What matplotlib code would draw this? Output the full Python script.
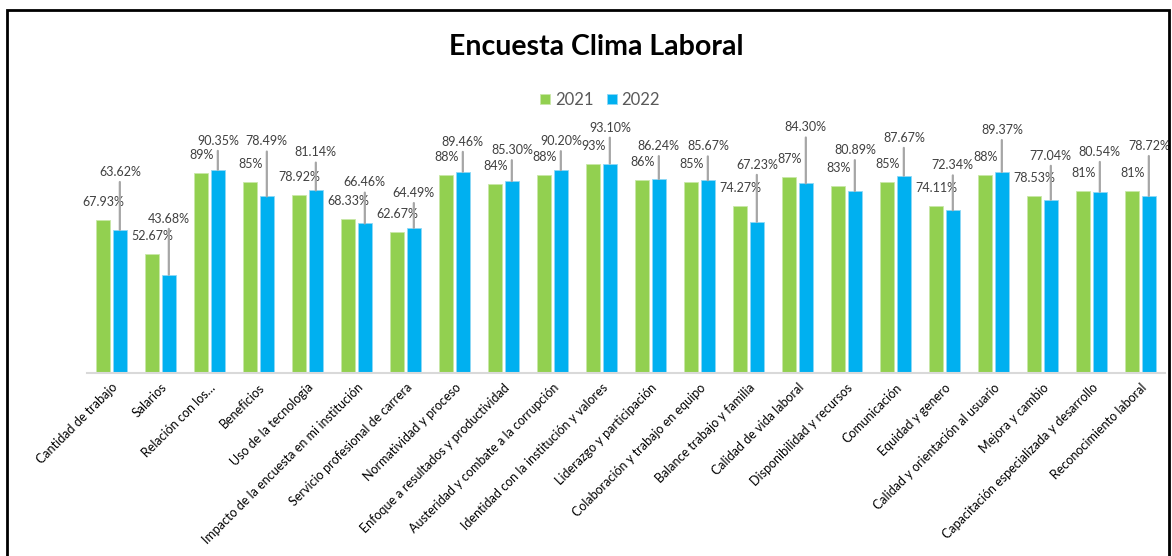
import matplotlib.pyplot as plt
from matplotlib.patches import Rectangle
import numpy as np

plt.rcParams['font.family'] = ['Lato', 'DejaVu Sans']

categories = [
    'Cantidad de trabajo', 'Salarios', 'Relación con los…', 'Beneficios',
    'Uso de la tecnología', 'Impacto de la encuesta en mi institución',
    'Servicio profesional de carrera', 'Normatividad y proceso',
    'Enfoque a resultados y productividad', 'Austeridad y combate a la corrupción',
    'Identidad con la institución y valores', 'Liderazgo y participación',
    'Colaboración y trabajo en equipo', 'Balance trabajo y familia',
    'Calidad de vida laboral', 'Disponibilidad y recursos', 'Comunicación',
    'Equidad y genero', 'Calidad y orientación al usuario', 'Mejora y cambio',
    'Capacitación especializada y desarrollo', 'Reconocimiento laboral',
]
v2021 = [67.93, 52.67, 89, 85, 78.92, 68.33, 62.67, 88, 84, 88, 93,
         86, 85, 74.27, 87, 83, 85, 74.11, 88, 78.53, 81, 81]
v2022 = [63.62, 43.68, 90.35, 78.49, 81.14, 66.46, 64.49, 89.46, 85.30, 90.20, 93.10,
         86.24, 85.67, 67.23, 84.30, 80.89, 87.67, 72.34, 89.37, 77.04, 80.54, 78.72]
lab2021 = ['67.93%', '52.67%', '89%', '85%', '78.92%', '68.33%', '62.67%', '88%', '84%',
           '88%', '93%', '86%', '85%', '74.27%', '87%', '83%', '85%', '74.11%', '88%',
           '78.53%', '81%', '81%']
lab2022 = ['63.62%', '43.68%', '90.35%', '78.49%', '81.14%', '66.46%', '64.49%', '89.46%',
           '85.30%', '90.20%', '93.10%', '86.24%', '85.67%', '67.23%', '84.30%', '80.89%',
           '87.67%', '72.34%', '89.37%', '77.04%', '80.54%', '78.72%']

# how far (pixels) each 2022 label sits above its bar, as placed in the original
lift2022 = [58, 56, 29, 55, 38, 41, 35, 30, 31, 29, 36, 33, 34, 57, 56, 41, 38, 45, 42, 44, 40, 50]

green = '#92D050'
blue = '#00B0F0'
W, H = 1172, 556

fig = plt.figure(figsize=(W / 100, H / 100), dpi=100)
ax = fig.add_axes([87 / W, (H - 373) / H, 1078 / W, 225 / H])

x = np.arange(len(categories))
bw = 0.28
ax.bar(x - 0.17, v2021, bw, color=green, edgecolor='#c9e8a8', linewidth=0.6, label='2021')
ax.bar(x + 0.17, v2022, bw, color=blue, edgecolor='#8fd8f5', linewidth=0.6, label='2022')

for i in range(len(categories)):
    ax.annotate(lab2021[i], xy=(x[i] - 0.17, v2021[i]), xytext=(0, 18),
                textcoords='offset pixels', ha='center', va='center',
                fontsize=9, color='#404040', annotation_clip=False)
    ax.annotate(lab2022[i], xy=(x[i] + 0.17, v2022[i]), xytext=(0, lift2022[i]),
                textcoords='offset pixels', ha='center', va='center',
                fontsize=9, color='#404040', annotation_clip=False,
                arrowprops=dict(arrowstyle='-', color='#a6a6a6', lw=1.6,
                                shrinkA=1, shrinkB=0))

ax.set_xlim(-0.5, len(categories) - 0.5)
ax.set_ylim(0, 100)
ax.set_yticks([])
ax.set_xticks(x)
ax.set_xticklabels(categories, rotation=45, ha='right', rotation_mode='anchor',
                   fontsize=9, color='black')
ax.tick_params(axis='x', length=0, pad=6)
for s in ['top', 'right', 'left']:
    ax.spines[s].set_visible(False)
ax.spines['bottom'].set_color('#d9d9d9')
ax.spines['bottom'].set_linewidth(1.5)

fig.text(596 / W, 1 - 47 / H, 'Encuesta Clima Laboral', ha='center', va='center',
         fontsize=20.5, fontweight='bold', color='black')
fig.legend(loc='center', bbox_to_anchor=(600 / W, 1 - 100 / H), ncol=2, frameon=False,
           fontsize=12, handlelength=0.6, handleheight=0.6, handletextpad=0.3,
           columnspacing=0.8, labelcolor='#595959')

fig.add_artist(Rectangle((7 / W, -0.1), (1169 - 7) / W, 1.1 - 10 / H,
                         transform=fig.transFigure, fill=False, lw=2, ec='black'))

fig.savefig('out.png', dpi=100, facecolor='white')
